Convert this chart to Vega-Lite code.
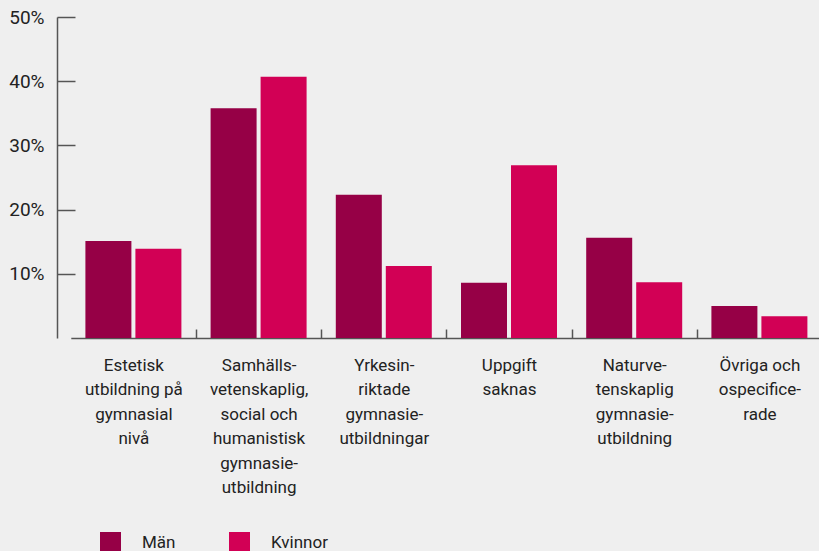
{
  "$schema": "https://vega.github.io/schema/vega-lite/v6.json",
  "width": 762,
  "height": 321,
  "autosize": {"type": "none"},
  "padding": {"left": 57, "top": 17, "right": 0, "bottom": 213},
  "background": "#efefef",
  "config": {
    "view": {"stroke": null},
    "font": "Roboto",
    "axis": {
      "domainColor": "#555555",
      "tickColor": "#555555",
      "domainWidth": 1.5,
      "tickWidth": 1.5,
      "labelColor": "#222222",
      "labelFontSize": 17,
      "labelFont": "Roboto",
      "grid": false,
      "title": null
    }
  },
  "data": {
    "values": [
      {"kategori": "Estetisk|utbildning på|gymnasial|nivå", "kon": "Män", "andel": 0.151},
      {"kategori": "Estetisk|utbildning på|gymnasial|nivå", "kon": "Kvinnor", "andel": 0.139},
      {"kategori": "Samhälls-|vetenskaplig,|social och|humanistisk|gymnasie-|utbildning", "kon": "Män", "andel": 0.358},
      {"kategori": "Samhälls-|vetenskaplig,|social och|humanistisk|gymnasie-|utbildning", "kon": "Kvinnor", "andel": 0.407},
      {"kategori": "Yrkesin-|riktade|gymnasie-|utbildningar", "kon": "Män", "andel": 0.223},
      {"kategori": "Yrkesin-|riktade|gymnasie-|utbildningar", "kon": "Kvinnor", "andel": 0.112},
      {"kategori": "Uppgift|saknas", "kon": "Män", "andel": 0.086},
      {"kategori": "Uppgift|saknas", "kon": "Kvinnor", "andel": 0.269},
      {"kategori": "Naturve-|tenskaplig|gymnasie-|utbildning", "kon": "Män", "andel": 0.156},
      {"kategori": "Naturve-|tenskaplig|gymnasie-|utbildning", "kon": "Kvinnor", "andel": 0.087},
      {"kategori": "Övriga och|ospecifice-|rade", "kon": "Män", "andel": 0.050},
      {"kategori": "Övriga och|ospecifice-|rade", "kon": "Kvinnor", "andel": 0.034}
    ]
  },
  "mark": {"type": "bar"},
  "encoding": {
    "x": {
      "field": "kategori",
      "type": "nominal",
      "sort": null,
      "scale": {"range": [13.8, 765], "paddingInner": 0, "paddingOuter": 0},
      "axis": {
        "labelAngle": 0,
        "labelExpr": "split(datum.label, '|')",
        "labelLineHeight": 24.5,
        "labelAlign": "center",
        "labelBaseline": "top",
        "tickSize": -9,
        "tickOffset": -62.6,
        "labelOffset": 62.6,
        "labelPadding": 28,
        "labelLimit": 200,
        "tickOpacity": {"condition": {"test": "indexof(datum.value, 'Estetisk') === 0", "value": 0}, "value": 1}
      }
    },
    "xOffset": {
      "field": "kon",
      "type": "nominal",
      "sort": ["Män", "Kvinnor"],
      "scale": {"paddingInner": 0.08, "paddingOuter": 0.292}
    },
    "y": {
      "field": "andel",
      "type": "quantitative",
      "scale": {"domain": [0, 0.5], "nice": false, "zero": true},
      "axis": {
        "values": [0.1, 0.2, 0.3, 0.4, 0.5],
        "format": ".0%",
        "tickSize": -18,
        "labelPadding": 31,
        "labelFontSize": 19
      }
    },
    "color": {
      "field": "kon",
      "type": "nominal",
      "sort": ["Män", "Kvinnor"],
      "scale": {"domain": ["Män", "Kvinnor"], "range": ["#960046", "#d20055"]},
      "legend": {
        "orient": "none",
        "legendX": 43,
        "legendY": 515,
        "direction": "horizontal",
        "title": null,
        "symbolType": "square",
        "symbolSize": 441,
        "symbolStrokeWidth": 0,
        "symbolOpacity": 1,
        "labelFontSize": 17,
        "labelColor": "#222222",
        "labelOffset": 21,
        "columnPadding": 53,
        "padding": 0
      }
    }
  }
}
